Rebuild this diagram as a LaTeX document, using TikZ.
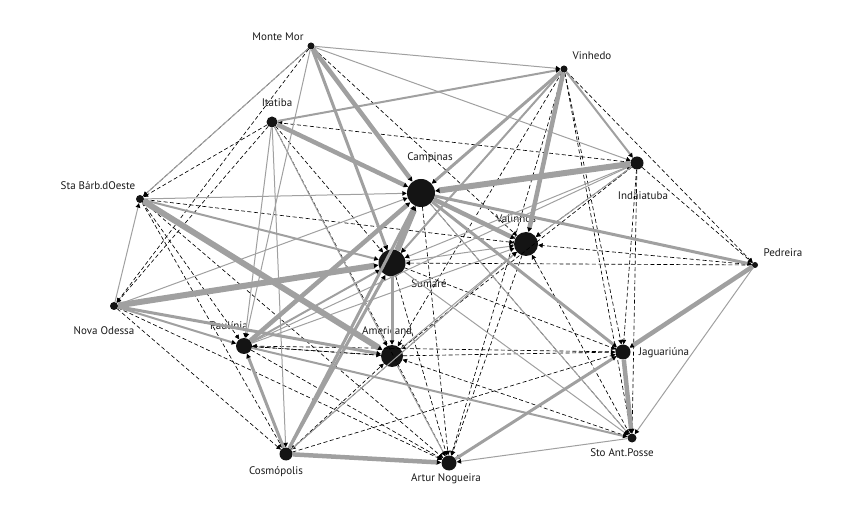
\documentclass[tikz,border=0pt]{standalone}
\usepackage{fontspec}
\setmainfont{PT Sans}
\usetikzlibrary{arrows.meta}
\definecolor{edgegray}{HTML}{A0A0A0}
\begin{document}
\begin{tikzpicture}[x=1pt,y=-1pt,
  city/.style={circle,fill=black!92,inner sep=0pt,minimum size=#1},
  lbl/.style={font=\fontsize{11}{12}\selectfont,inner sep=0pt,text=black!90},
  tip/.style={-{Triangle[length=4.5pt,width=4.5pt,color=black]}},
  ga/.style={tip,draw=edgegray,line width=1pt},
  gb/.style={tip,draw=edgegray,line width=2pt},
  gc/.style={tip,draw=edgegray,line width=3pt},
  gd/.style={tip,draw=edgegray,line width=4.5pt},
  ge/.style={tip,draw=edgegray,line width=6pt},
  dl/.style={tip,draw=black,line width=0.65pt,dash pattern=on 4pt off 2.5pt},
]
\path[use as bounding box] (0,0) rectangle (846,526);
% nodes
\node[city=7pt]  (MM) at (311,46) {};
\node[city=7pt]  (Vi) at (564,69) {};
\node[city=11pt] (It) at (272,122) {};
\node[city=28pt] (Ca) at (421,193) {};
\node[city=13pt] (In) at (637,163) {};
\node[city=8pt]  (SB) at (140,199) {};
\node[city=24pt] (Va) at (526,244) {};
\node[city=6pt]  (Pe) at (755,265) {};
\node[city=27pt] (Su) at (392,263) {};
\node[city=8pt]  (NO) at (114,306) {};
\node[city=16pt] (Pa) at (244,346) {};
\node[city=22pt] (Am) at (392,356) {};
\node[city=15pt] (Ja) at (623,352) {};
\node[city=9pt]  (SA) at (632,438) {};
\node[city=13pt] (Co) at (286,454) {};
\node[city=15pt] (AN) at (449,463) {};
% labels
\node[lbl] (lMM) at (278,37) {Monte Mor};
\node[lbl] (lVi) at (592,56) {Vinhedo};
\node[lbl] (lIt) at (277,103) {Itatiba};
\node[lbl] (lCa) at (430,158) {Campinas};
\node[lbl] (lIn) at (643,196) {Indaiatuba};
\node[lbl] (lSB) at (98,186) {Sta Bárb.dOeste};
\node[lbl] (lVa) at (516,219) {Valinhos};
\node[lbl] (lPe) at (783,253) {Pedreira};
\node[lbl] (lSu) at (429,284) {Sumaré};
\node[lbl] (lNO) at (104,331) {Nova Odessa};
\node[lbl] (lPa) at (229,326) {Paulínia};
\node[lbl] (lAm) at (387,331) {Americana};
\node[lbl] (lJa) at (664,353) {Jaguariúna};
\node[lbl] (lSA) at (622,453) {Sto Ant.Posse};
\node[lbl] (lCo) at (276,472) {Cosmópolis};
\node[lbl] (lAN) at (446,479) {Artur Nogueira};
% dashed edges
\foreach \a/\b in {MM/SB,MM/NO,MM/Va,It/SB,It/NO,In/It,It/Su,It/AN,SB/Va,SB/Pa,SB/Co,
  NO/Co,NO/AN,Pa/Am,Am/Pa,Pa/AN,Co/Ja,Co/Am,Vi/Ja,Vi/SA,Vi/Pe,Vi/Am,Vi/AN,
  In/Pe,In/Ja,In/SA,In/Am,In/Va,Pe/Va,Pe/Su,Am/Ja,Su/Ja,Ca/AN,Su/AN,Va/AN,Va/Co,
  Ja/AN,SA/Va,SA/Am,Ja/Pa,Ca/SA,SB/AN,MM/Su,Vi/Su}
  \draw[dl] (\a) -- (\b);
% thin gray
\foreach \a/\b in {MM/Vi,MM/In,MM/SB,MM/Pa,SB/Ca,NO/SB,NO/Ca,It/Pa,It/Co,It/Am,Pa/Va,Pa/In,
  Co/Va,Am/Va,Am/AN,In/Va,In/Su,Pe/SA,SA/AN,Su/SA,Ca/SA,Su/Va}
  \draw[ga] (\a) -- (\b);
% medium gray
\foreach \a/\b in {NO/Pa,SB/Su,Pa/Su,Pa/SA,Vi/Su,Vi/In,It/Vi}
  \draw[gb] (\a) -- (\b);
\foreach \a/\b in {MM/Su,Ca/Pe,Ca/Ja,NO/Am,Co/Pa,Co/Su,Co/Ca,Vi/Ca,Su/Am,AN/Ja}
  \draw[gc] (\a) -- (\b);
% thick gray
\foreach \a/\b in {MM/Ca,It/Ca,Vi/Va,Ca/Va,Pa/Ca,Co/AN,Ja/SA,Pe/Ja}
  \draw[gd] (\a) -- (\b);
\foreach \a/\b in {SB/Am,In/Ca,Su/Ca,NO/Su}
  \draw[ge] (\a) -- (\b);
\end{tikzpicture}
\end{document}
